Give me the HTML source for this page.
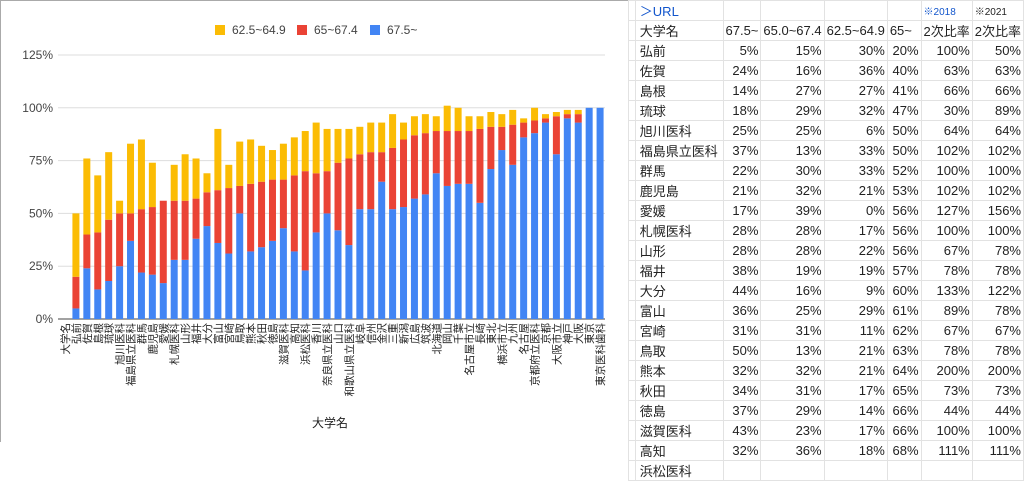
<!DOCTYPE html>
<html><head><meta charset="utf-8">
<style>
body{margin:0;width:1024px;height:442px;overflow:hidden;background:#fff;font-family:"Liberation Sans","Noto Sans CJK JP",sans-serif;position:relative}
#chart{position:absolute;left:0;top:0}
table{position:absolute;left:628px;top:0;border-collapse:collapse;font-size:13px;color:#222;table-layout:fixed}
td{border:1px solid #e2e2e2;height:18px;padding:0 2px;white-space:nowrap;overflow:hidden;text-align:right}
td.n{text-align:left;padding-left:4px}
tr.h td{text-align:left}
a{color:#1155cc}
</style></head><body>
<svg id="chart" width="628" height="442"></svg>
<table>
<colgroup><col style="width:9px"><col style="width:91px"><col style="width:37px"><col style="width:60px"><col style="width:60px"><col style="width:37px"><col style="width:50px"><col style="width:48px"></colgroup>
<tbody id="tb"></tbody></table>
<script>
const categories=["大学名","弘前","佐賀","島根","琉球","旭川医科","福島県立医科","群馬","鹿児島","愛媛","札幌医科","山形","福井","大分","富山","宮崎","鳥取","熊本","秋田","徳島","滋賀医科","高知","浜松医科","香川","奈良県立医科","山口","和歌山県立医科","岐阜","信州","金沢","三重","新潟","広島","筑波","北海道","岡山","千葉","名古屋市立","長崎","東北","横浜市立","九州","名古屋","京都府立医科","京都","大阪市立","神戸","大阪","東京","東京医科歯科"];
const blueVals=[null,5,24,14,18,25,37,22,21,17,28,28,38,44,36,31,50,32,34,37,43,32,23,41,50,42,35,52,52,65,52,53,57,59,69,63,64,64,55,71,80,73,86,88,93,78,95,93,100,100];
const redVals=[null,15,16,27,29,25,13,30,32,39,28,28,19,16,25,31,13,32,31,29,23,36,47,28,20,32,41,26,27,14,29,32,30,29,20,26,25,25,35,20,11,19,7,6,2,18,2,4,0,0];
const yellowVals=[null,30,36,27,32,6,33,33,21,0,17,22,19,9,29,11,21,21,17,14,17,18,19,24,20,16,14,13,14,14,16,8,9,9,7,12,11,7,6,7,6,7,2,6,2,2,2,2,0,0];
const yTicks=[0,25,50,75,100,125];
const legendLabels=["62.5~64.9","65~67.4","67.5~"];
const colors={blue:"#4285f4",red:"#ea4335",yellow:"#fbbc04"};
const svg=document.getElementById('chart');
const NS="http://www.w3.org/2000/svg";
function y(v){return 319-v*2.112;}
function x(i){return 65+i*10.92;}
function mk(t,a){const e=document.createElementNS(NS,t);for(const k in a)e.setAttribute(k,a[k]);svg.appendChild(e);return e;}
let b=mk('rect',{x:0.5,y:0.5,width:640,height:460,fill:'none',stroke:'#aaa'});


yTicks.forEach(t=>{
 let g=mk('line',{x1:58,x2:605,y1:y(t),y2:y(t),stroke:t===0?'#444':'#ddd','stroke-width':1});
 
 
 let l=mk('text',{x:53,y:y(t)+4,'text-anchor':'end','font-size':12,fill:'#444'});
 l.textContent=t+'%';
 
 
});
categories.forEach((c,i)=>{
 if(blueVals[i]!==null){
  let acc=0;
  [[blueVals[i],colors.blue,'blue'],[redVals[i],colors.red,'red'],[yellowVals[i],colors.yellow,'yellow']].forEach(([v,col,n])=>{
   if(v>0){
    let r=mk('rect',{x:x(i)-3.5,y:y(acc+v),width:7,height:y(acc)-y(acc+v),fill:col});
    
    
   }
   acc+=v;
  });
 }
 let t=mk('text',{transform:`translate(${x(i)+4},323) rotate(-90)`,'text-anchor':'end','font-size':10.5,fill:'#222'});
 t.textContent=c;
 
 
});
let at=mk('text',{x:330,y:427,'text-anchor':'middle','font-size':12,fill:'#222'});
at.textContent='大学名';


const lx=[215,297,370],lc=[colors.yellow,colors.red,colors.blue];
legendLabels.forEach((s,i)=>{
 let r=mk('rect',{x:lx[i],y:25,width:10,height:10,fill:lc[i]});
 
 
 let t=mk('text',{x:lx[i]+17,y:34,'font-size':12,fill:'#444'});
 t.textContent=s;
 
 
});
const rows=[["弘前",5,15,30,20,100,50],["佐賀",24,16,36,40,63,63],["島根",14,27,27,41,66,66],["琉球",18,29,32,47,30,89],["旭川医科",25,25,6,50,64,64],["福島県立医科",37,13,33,50,102,102],["群馬",22,30,33,52,100,100],["鹿児島",21,32,21,53,102,102],["愛媛",17,39,0,56,127,156],["札幌医科",28,28,17,56,100,100],["山形",28,28,22,56,67,78],["福井",38,19,19,57,78,78],["大分",44,16,9,60,133,122],["富山",36,25,29,61,89,78],["宮崎",31,31,11,62,67,67],["鳥取",50,13,21,63,78,78],["熊本",32,32,21,64,200,200],["秋田",34,31,17,65,73,73],["徳島",37,29,14,66,44,44],["滋賀医科",43,23,17,66,100,100],["高知",32,36,18,68,111,111],["浜松医科","","","","","",""]];
const tb=document.getElementById('tb');
let h='<tr class="h"><td></td><td class="n"><a>＞URL</a></td><td></td><td></td><td></td><td></td><td style="font-size:10px"><a>※2018</a></td><td style="font-size:10px">※2021</td></tr>';
h+='<tr class="h"><td></td><td class="n">大学名</td><td>67.5~</td><td>65.0~67.4</td><td>62.5~64.9</td><td>65~</td><td>2次比率</td><td>2次比率</td></tr>';
rows.forEach(r=>{h+='<tr><td></td><td class="n">'+r[0]+'</td>'+r.slice(1).map(v=>'<td>'+(v===''?'':v+'%')+'</td>').join('')+'</tr>';});
tb.innerHTML=h;
</script>
</body></html>
